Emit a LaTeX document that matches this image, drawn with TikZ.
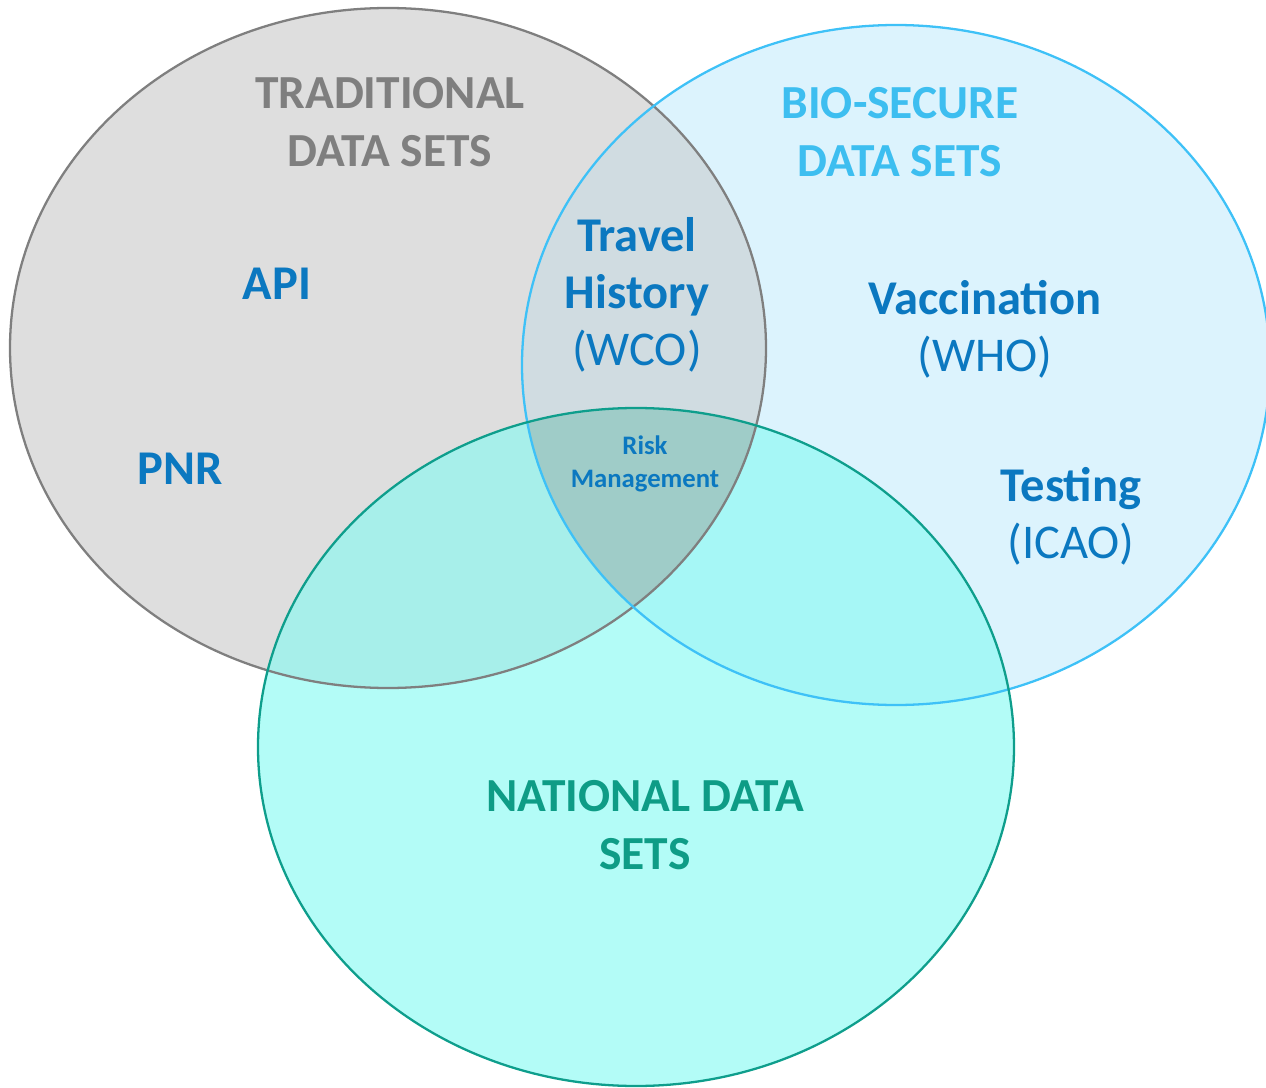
\documentclass[tikz,border=0pt]{standalone}
\usepackage{fontspec}
\setmainfont{Carlito}
\usepackage{tikz}

\definecolor{tradfill}{HTML}{DEDEDE}
\definecolor{tradline}{HTML}{7F7F7F}
\definecolor{biofill}{RGB}{197,235,252}
\definecolor{bioline}{HTML}{3EC1F7}
\definecolor{biotext}{HTML}{3DBEF0}
\definecolor{natfill}{RGB}{136,250,242}
\definecolor{natline}{HTML}{0E9E8C}
\definecolor{nattext}{HTML}{0E9C86}
\definecolor{lensfill}{HTML}{D0DCE1}
\definecolor{allfill}{HTML}{9FCCC8}
\definecolor{itemblue}{HTML}{0B78C0}

\tikzset{
  big/.style={font=\fontsize{13.5}{16.5}\selectfont\bfseries,align=center},
  item/.style={font=\fontsize{13.8}{16.3}\selectfont,align=center,text=itemblue},
  small/.style={font=\fontsize{7.6}{9.4}\selectfont\bfseries,align=center,text=itemblue}
}

\begin{document}
\begin{tikzpicture}
  \useasboundingbox (0,0) rectangle (12.66,10.87);
  % fills
  \fill[tradfill] (3.88,7.39) ellipse [x radius=3.78, y radius=3.40];
  \fill[biofill,opacity=0.6] (8.96,7.22) ellipse [x radius=3.74, y radius=3.40];
  \begin{scope}
    \clip (3.88,7.39) ellipse [x radius=3.78, y radius=3.40];
    \fill[lensfill] (8.96,7.22) ellipse [x radius=3.74, y radius=3.40];
  \end{scope}
  \fill[natfill,opacity=0.64] (6.36,3.40) ellipse [x radius=3.78, y radius=3.39];
  \begin{scope}
    \clip (3.88,7.39) ellipse [x radius=3.78, y radius=3.40];
    \clip (8.96,7.22) ellipse [x radius=3.74, y radius=3.40];
    \fill[allfill] (6.36,3.40) ellipse [x radius=3.78, y radius=3.39];
  \end{scope}
  % outlines
  \draw[tradline,line width=0.65pt] (3.88,7.39) ellipse [x radius=3.78, y radius=3.40];
  \draw[bioline,line width=0.65pt] (8.96,7.22) ellipse [x radius=3.74, y radius=3.40];
  \draw[natline,line width=0.65pt] (6.36,3.40) ellipse [x radius=3.78, y radius=3.39];

  \node (trad) at (3.90,9.65) [big,text=tradline] {TRADITIONAL\\DATA SETS};
  \node (bio) at (9.00,9.55) [big,text=biotext] {BIO-SECURE\\DATA SETS};
  \node (nat) at (6.45,2.62) [big,text=nattext] {NATIONAL DATA\\SETS};

  \node (api) at (2.77,8.03) [item] {\bfseries API};
  \node (pnr) at (1.80,6.18) [item] {\bfseries PNR};
  \node (travel) at (6.37,7.92) [item] {\bfseries Travel\\\bfseries History\\(WCO)};
  \node (vacc) at (9.85,7.58) [item] {\bfseries Vaccination\\(WHO)};
  \node (test) at (10.71,5.71) [item] {\bfseries Testing\\(ICAO)};
  \node (risk) at (6.45,6.23) [small] {Risk\\Management};
\end{tikzpicture}
\end{document}
